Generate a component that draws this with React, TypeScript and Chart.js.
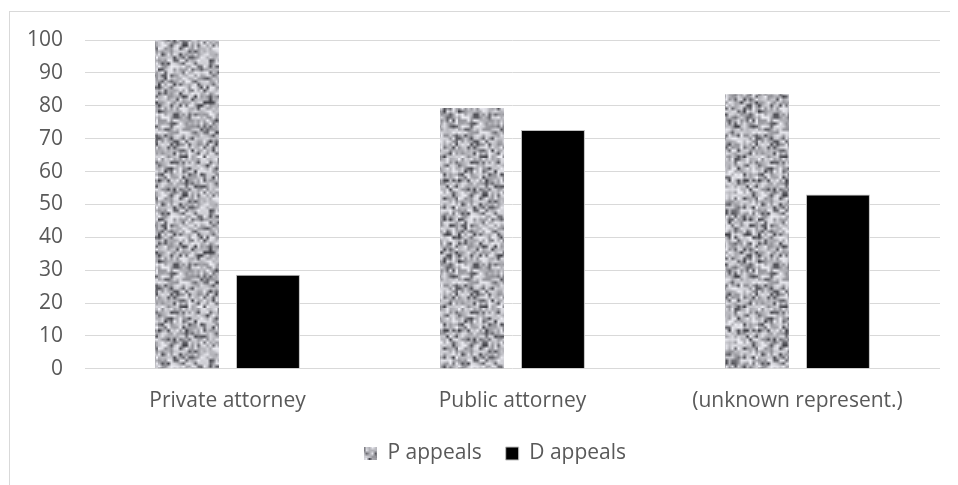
import React, { useEffect, useRef } from "react";
import { Chart, registerables } from "chart.js";

Chart.register(...registerables);

const categories = ["Private attorney", "Public attorney", "(unknown represent.)"];
const pAppeals = [100, 79.3, 83.5];
const dAppeals = [28.6, 72.6, 53];
const seriesNames = ["P appeals", "D appeals"];
const yTicks = [0, 10, 20, 30, 40, 50, 60, 70, 80, 90, 100];

function makeNoisePattern(ctx: CanvasRenderingContext2D): CanvasPattern | string {
  const n = 50;
  const small = document.createElement("canvas");
  small.width = n;
  small.height = n;
  const s = small.getContext("2d");
  if (!s) return "#a6a6a6";
  // deterministic hash-based texture (styling only)
  const hash = (x: number, y: number) => {
    let h = (x * 374761393 + y * 668265263) ^ 0x5bd1e995;
    h = Math.imul(h ^ (h >>> 13), 1274126177);
    h = h ^ (h >>> 16);
    return ((h >>> 0) % 1000) / 1000;
  };
  const img = s.createImageData(n, n);
  for (let y = 0; y < n; y++) {
    for (let x = 0; x < n; x++) {
      const v = hash(x, y);
      let t: number;
      if (v < 0.2) t = v * 1.6;
      else t = 0.45 + (v - 0.2) * 0.69;
      const g = Math.round(60 + t * 180);
      const i = (y * n + x) * 4;
      img.data[i] = g;
      img.data[i + 1] = g;
      img.data[i + 2] = Math.min(255, g + 6);
      img.data[i + 3] = 255;
    }
  }
  s.putImageData(img, 0, 0);
  const size = n * 3;
  const off = document.createElement("canvas");
  off.width = size;
  off.height = size;
  const o = off.getContext("2d");
  if (!o) return "#a6a6a6";
  o.imageSmoothingEnabled = true;
  o.drawImage(small, 0, 0, size, size);
  return ctx.createPattern(off, "repeat") || "#a6a6a6";
}

const legendShift = {
  id: "legendShift",
  afterLayout(chart: any) {
    if (chart.legend) {
      chart.legend.left += 42;
    }
  },
};

export default function App() {
  const ref = useRef<HTMLCanvasElement | null>(null);
  useEffect(() => {
    document.body.style.overflow = "hidden";
    const canvas = ref.current;
    if (!canvas) return;
    const ctx = canvas.getContext("2d");
    if (!ctx) return;
    const pattern = makeNoisePattern(ctx);
    const font = { family: "'Open Sans', 'Liberation Sans', sans-serif", size: 21 };
    const chart = new Chart(canvas, {
      type: "bar",
      data: {
        labels: categories,
        datasets: [
          {
            label: seriesNames[0],
            data: pAppeals,
            backgroundColor: pattern as any,
            borderWidth: 0,
            categoryPercentage: 0.568,
            barPercentage: 0.79,
          },
          {
            label: seriesNames[1],
            data: dAppeals,
            backgroundColor: "#000000",
            borderColor: "#bfbfbf",
            borderWidth: 1,
            categoryPercentage: 0.568,
            barPercentage: 0.79,
          },
        ],
      },
      options: {
        responsive: false,
        animation: false,
        layout: { padding: { top: 0, right: 18, left: 0, bottom: 0 } },
        plugins: {
          tooltip: { enabled: false },
          legend: {
            position: "bottom",
            labels: {
              color: "#595959",
              font,
              boxWidth: 13,
              boxHeight: 13,
              padding: 24,
            },
          },
        },
        scales: {
          x: {
            grid: { display: false, drawTicks: false },
            border: { display: false },
            ticks: { color: "#595959", font, padding: 20 },
            afterFit: (s: any) => {
              s.height = s.height - 15;
            },
          },
          y: {
            min: 0,
            max: 100,
            afterFit: (s: any) => {
              s.width = 77;
              s.paddingTop = 32;
            },
            afterBuildTicks: (s: any) => {
              s.ticks = yTicks.map((v) => ({ value: v }));
            },
            grid: { color: "#d9d9d9", lineWidth: 1, drawTicks: false },
            border: { display: false },
            ticks: { color: "#595959", font, padding: 22 },
          },
        },
      },
      plugins: [legendShift],
    });
    return () => chart.destroy();
  }, []);
  return (
    <div style={{ position: "relative", width: 950, height: 477, overflow: "hidden" }}>
      <div
        style={{
          position: "absolute",
          left: 1,
          top: 3,
          width: 2000,
          height: 2000,
          borderLeft: "1px solid #d9d9d9",
          borderTop: "1px solid #d9d9d9",
        }}
      />
      <canvas
        ref={ref}
        width={950}
        height={466}
        style={{ display: "block", position: "absolute", left: 0, top: 0 }}
      />
    </div>
  );
}
